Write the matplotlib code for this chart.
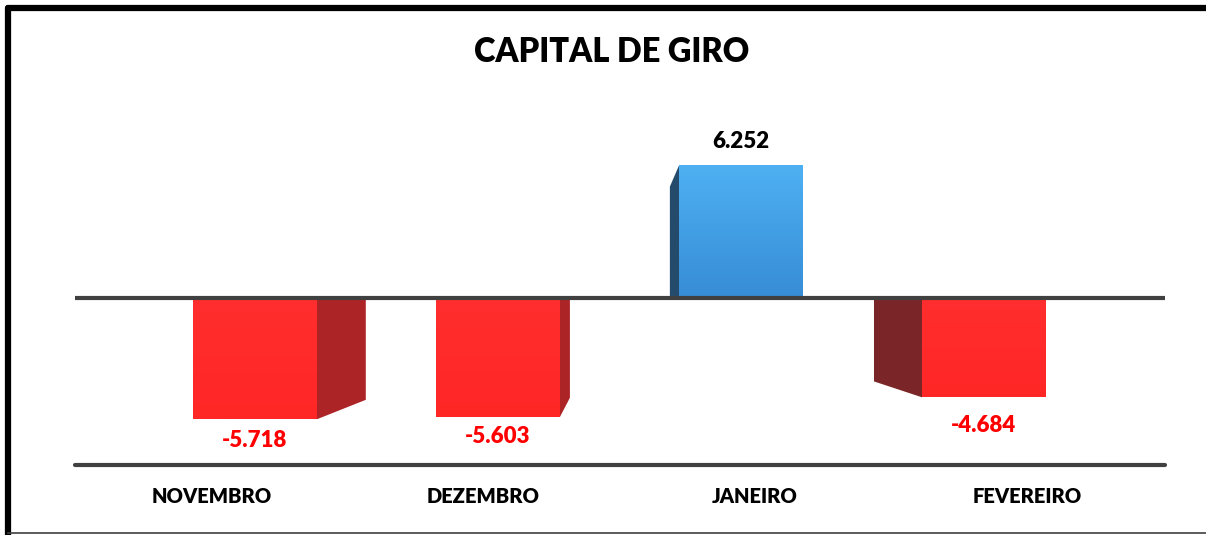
import matplotlib
matplotlib.use("Agg")
import matplotlib.pyplot as plt
import numpy as np
from matplotlib.patches import Polygon, Rectangle
from matplotlib.lines import Line2D
from matplotlib.colors import LinearSegmentedColormap

# ---------------- data ----------------
categories = ["NOVEMBRO", "DEZEMBRO", "JANEIRO", "FEVEREIRO"]
values = [-5.718, -5.603, 6.252, -4.684]
value_labels = ["-5.718", "-5.603", "6.252", "-4.684"]
title = "CAPITAL DE GIRO"

# ---------------- style / layout ----------------
plt.rcParams['font.family'] = ['Lato', 'DejaVu Sans']
W, H = 1206, 535
fig = plt.figure(figsize=(W / 100, H / 100), dpi=100)
fig.patch.set_facecolor("white")

ax_left, ax_right, ax_top, ax_bottom = 75, 1165, 120, 465
ax = fig.add_axes([ax_left / W, (H - ax_bottom) / H,
                   (ax_right - ax_left) / W, (ax_bottom - ax_top) / H])

px_per_x = 243.0      # pixel distance between bars
x0_px = 255.0         # pixel of first bar centre
zero_px = 298.0
px_per_unit = 21.2
xlim = ((ax_left - x0_px) / px_per_x, (ax_right - x0_px) / px_per_x)
ylim = (-(ax_bottom - zero_px) / px_per_unit, (zero_px - ax_top) / px_per_unit)

bar_w = 124 / px_per_x
vp_x, vp_y = 1.51, 0.0      # vanishing point (data coords)
depth = 0.84                # back face scale
label_scale = 1.119         # front plane for category labels

neg_front = ("#ff2e2e", "#ff2626")
pos_front = ("#4eb0f2", "#378dd6")
side_cols = ["#ad2427", "#ad2427", "#244b6b", "#7a2628"]
label_cols = ["#ff0000", "#ff0000", "#000000", "#ff0000"]
label_offsets_px = [21, 20, 24, 28]

for i, v in enumerate(values):
    xl, xr = i - bar_w / 2, i + bar_w / 2
    # side face
    edge = xr if i < vp_x else xl
    bx = vp_x + depth * (edge - vp_x)
    by = vp_y + depth * (v - vp_y)
    side = Polygon([(edge, 0), (edge, v), (bx, by), (bx, 0)], closed=True,
                   facecolor=side_cols[i], edgecolor="none", zorder=2)
    ax.add_patch(side)
    # front face with gradient
    c_top, c_bot = pos_front if v > 0 else neg_front
    rect = Rectangle((xl, min(0, v)), bar_w, abs(v), facecolor="none",
                     edgecolor="none", zorder=3)
    ax.add_patch(rect)
    cmap = LinearSegmentedColormap.from_list("g", [c_bot, c_top])
    grad = np.linspace(0, 1, 100).reshape(-1, 1)
    im = ax.imshow(grad, cmap=cmap, aspect="auto", origin="lower",
                   extent=(xl, xr, min(0, v), max(0, v)), zorder=3)
    im.set_clip_path(rect)
    # value label
    off = label_offsets_px[i] * 0.72
    ax.annotate(value_labels[i], (i, v), xytext=(0, off if v > 0 else -off),
                textcoords="offset points", ha="center", va="center",
                fontsize=16, fontweight="heavy", color=label_cols[i], zorder=5)

# zero line & bottom line
ax.plot([xlim[0], xlim[1]], [0, 0], color="#404040", lw=3.0,
        solid_capstyle="round", zorder=4)
ax.plot([xlim[0], xlim[1]], [ylim[0], ylim[0]], color="#404040", lw=3.0,
        solid_capstyle="round", zorder=4, clip_on=False)

ax.set_xlim(*xlim)
ax.set_ylim(*ylim)
for s in ax.spines.values():
    s.set_visible(False)
ax.set_yticks([])
tick_pos = [vp_x + label_scale * (i - vp_x) for i in range(len(categories))]
ax.set_xticks(tick_pos)
ax.set_xticklabels(categories, fontsize=14.5, fontweight="heavy", color="#000000")
ax.tick_params(axis="x", length=0, pad=16)
ax.patch.set_alpha(0)

fig.text(612 / W, 1 - 52 / H, title, ha="center", va="center",
         fontsize=23.5, fontweight="heavy", color="#000000")

# frame
fig.add_artist(Line2D([8 / W, 8 / W], [0, 1 - 8 / H], color="black", lw=4.5,
                      transform=fig.transFigure, solid_capstyle="round"))
fig.add_artist(Line2D([8 / W, 1], [1 - 8 / H, 1 - 8 / H], color="black", lw=4.5,
                      transform=fig.transFigure, solid_capstyle="round"))
fig.add_artist(Line2D([8 / W, 1], [1 - 533 / H, 1 - 533 / H], color="#404040", lw=1.2,
                      transform=fig.transFigure))

fig.savefig("out.png", dpi=100)
